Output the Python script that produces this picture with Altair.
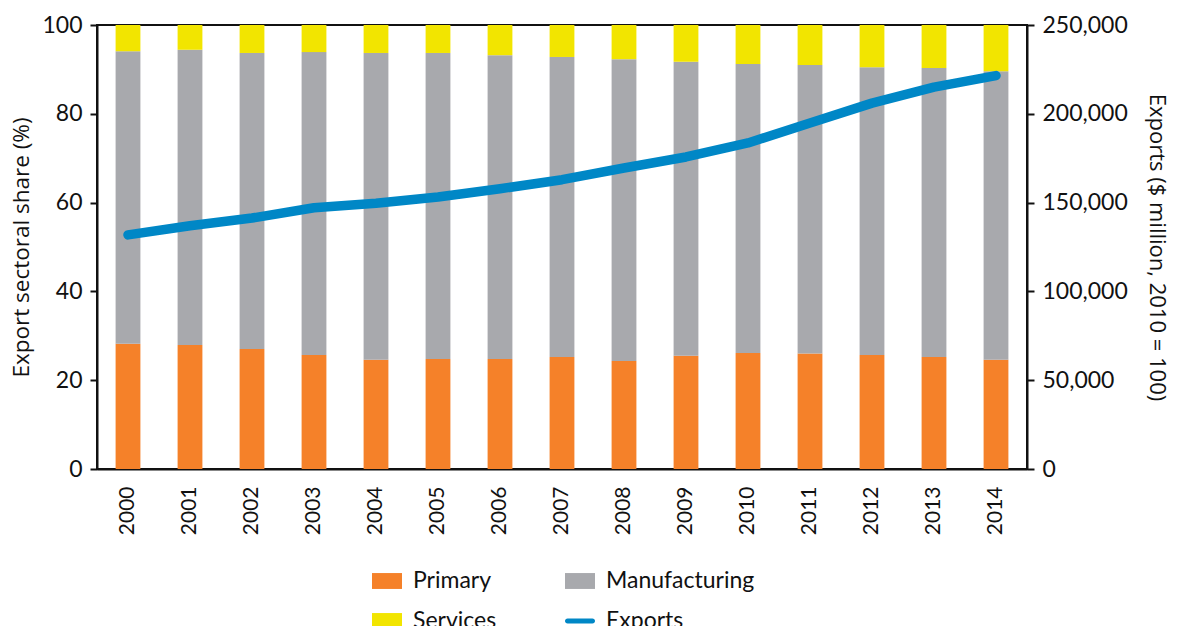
import altair as alt
import pandas as pd

years = [str(y) for y in range(2000, 2015)]
primary = [28.2, 27.9, 27.0, 25.7, 24.6, 24.8, 24.8, 25.2, 24.3, 25.5, 26.1, 26.0, 25.7, 25.2, 24.6]
manufacturing = [65.9, 66.5, 66.7, 68.2, 69.1, 68.9, 68.4, 67.6, 68.0, 66.2, 65.1, 65.0, 64.8, 65.1, 65.0]
services = [5.9, 5.6, 6.3, 6.1, 6.3, 6.3, 6.8, 7.2, 7.7, 8.3, 8.8, 9.0, 9.5, 9.7, 10.4]
exports = [131800, 137000, 141300, 147100, 149600, 153200, 157800, 162900, 169500,
           175700, 183600, 194800, 206000, 215000, 221500]

series_names = ["Primary", "Manufacturing", "Services", "Exports"]
series_colors = ["#F58129", "#A8A9AD", "#F2E500", "#0087C6"]

rows = []
for i, y in enumerate(years):
    for k, (name, vals) in enumerate([("Primary", primary), ("Manufacturing", manufacturing), ("Services", services)]):
        rows.append({"year": y, "series": name, "share": vals[i], "order": k})
bars_df = pd.DataFrame(rows)
line_df = pd.DataFrame({"year": years, "exports": exports, "series": ["Exports"] * len(years)})

FONT = "Lato"
TITLE_FONT = "Open Sans"

color = alt.Color(
    "series:N",
    scale=alt.Scale(domain=series_names, range=series_colors),
    legend=alt.Legend(
        title=None,
        orient="none",
        legendX=275,
        legendY=541,
        columns=2,
        direction="horizontal",
        symbolSize=900,
        symbolStrokeWidth=0,
        symbolType={"expr": "datum.value === 'Exports' ? 'M-0.83,-0.17H0.83A0.17,0.17 0 0 1 0.83,0.17H-0.83A0.17,0.17 0 0 1 -0.83,-0.17Z' : 'M-1,-0.53H1V0.53H-1Z'"},
        labelOffset=11,
        labelFontSize=23,
        labelFont=FONT,
        labelColor="#111111",
        columnPadding=68,
        rowPadding=13,
        padding=0,
    ),
)

x = alt.X(
    "year:O",
    title=None,
    scale=alt.Scale(paddingInner=0.6, paddingOuter=0.3),
    axis=alt.Axis(labelAngle=-90, labelFontSize=21, labelFont=FONT, labelColor="#111111",
                  ticks=False, labelPadding=17, domainColor="#111111", domainWidth=2,
                  labelAlign="right", labelBaseline="middle"),
)

bars = alt.Chart(bars_df).mark_bar().encode(
    x=x,
    y=alt.Y("share:Q", title="Export sectoral share (%)",
            scale=alt.Scale(domain=[0, 100]),
            axis=alt.Axis(values=[0, 20, 40, 60, 80, 100], grid=False, tickSize=7, tickWidth=2,
                          tickColor="#111111", domainColor="#111111", domainWidth=2,
                          labelFontSize=23, labelFont=FONT, labelColor="#111111", labelPadding=8,
                          titleFontSize=22.5, titleFont=TITLE_FONT, titleFontWeight="normal",
                          titleColor="#111111", titlePadding=8)),
    color=color,
    order=alt.Order("order:Q"),
)

line = alt.Chart(line_df).mark_line(strokeWidth=9.5, strokeCap="round", strokeJoin="round").encode(
    x=x,
    y=alt.Y("exports:Q", title="Exports ($ million, 2010 = 100)",
            scale=alt.Scale(domain=[0, 250000]),
            axis=alt.Axis(orient="right", values=[0, 50000, 100000, 150000, 200000, 250000],
                          format=",.0f", grid=False, tickSize=7, tickWidth=2, tickColor="#111111",
                          domainColor="#111111", domainWidth=2,
                          labelFontSize=23, labelFont=FONT, labelColor="#111111", labelPadding=8,
                          titleFontSize=22, titleFont=TITLE_FONT, titleFontWeight="normal",
                          titleColor="#111111", titlePadding=17)),
    color=alt.Color("series:N"),
)

chart = alt.layer(bars, line).resolve_scale(y="independent").properties(
    width=930,
    height=444,
    autosize=alt.AutoSizeParams(type="none"),
    padding={"left": 89, "top": 17, "right": 144, "bottom": 160},
).configure_view(stroke="#111111", strokeWidth=2)

chart.save("out.html", embed_options={"renderer": "svg", "actions": False})
